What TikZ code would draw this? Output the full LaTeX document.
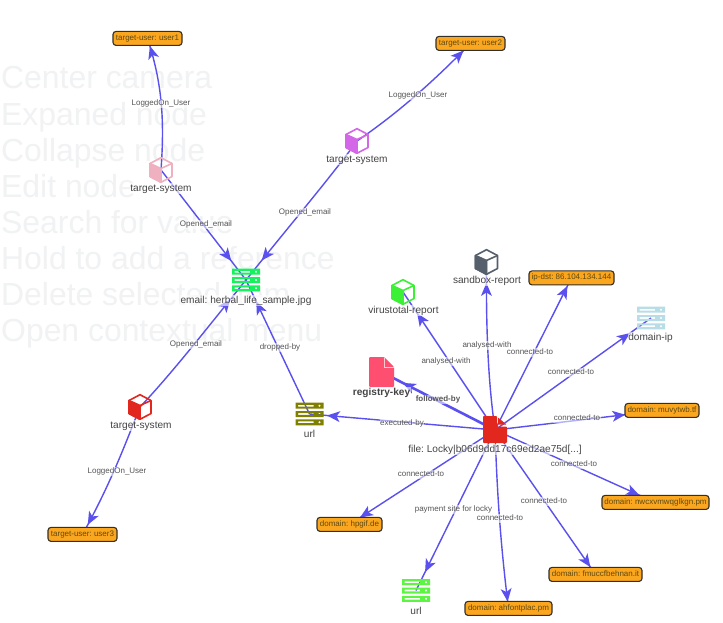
\documentclass[tikz,border=0pt]{standalone}
\usepackage{fontspec}
\setmainfont{Liberation Sans}
\usetikzlibrary{arrows.meta,decorations.markings}
\pgfdeclarelayer{hintlayer}\pgfdeclarelayer{edgelayer}
\pgfsetlayers{hintlayer,edgelayer,main}
\frenchspacing
\definecolor{edgeblue}{HTML}{5A50EE}
\definecolor{tagfill}{HTML}{FBA61F}
\definecolor{tagline}{HTML}{33302A}
\definecolor{tagtext}{HTML}{5E4A12}
\definecolor{labeltext}{HTML}{444444}
\definecolor{edgetext}{HTML}{555555}
\definecolor{hinttext}{HTML}{F1F2F3}
\definecolor{cpink}{HTML}{EFB0C0}
\definecolor{cmagenta}{HTML}{D466E8}
\definecolor{cred}{HTML}{E2281E}
\definecolor{cslate}{HTML}{56606C}
\definecolor{cvt}{HTML}{3CF036}
\definecolor{cemail}{HTML}{14F25C}
\definecolor{colive}{HTML}{808000}
\definecolor{cdomip}{HTML}{B9DDE6}
\definecolor{curlg}{HTML}{5CF542}
\definecolor{creg}{HTML}{FF4F70}
\tikzset{
  x=1pt,y=-1pt,
  edge/.style={draw=edgeblue,line width=1.4pt,postaction={decorate,decoration={markings,mark=at position -#1pt with {\arrow{Stealth[length=13pt,width=11pt,inset=3.5pt,line width=0pt,fill=edgeblue]}}}}},
  thickedge/.style={edge=#1,line width=2.6pt},
  tag/.style={draw=tagline,fill=tagfill,line width=1.1pt,rounded corners=3pt,minimum height=14pt,inner sep=0pt,text=tagtext,text height=6pt,text depth=2pt,yshift=-0.4pt,font=\fontsize{8}{9}\selectfont},
  elabel/.style={text=edgetext,font=\fontsize{8}{9}\selectfont,inner sep=0.5pt,text height=6pt,text depth=1.8pt,yshift=-0.8pt,fill=white,fill opacity=.55,text opacity=1},
  nlabel/.style={text=labeltext,font=\fontsize{10.1}{11}\selectfont,inner sep=0.5pt,text height=7.5pt,text depth=2pt,yshift=-1.6pt,fill=white,fill opacity=.6,text opacity=1},
  hint/.style={text=hinttext,font=\fontsize{31.9}{33}\selectfont,anchor=base west,inner sep=0pt},
  iconnode/.style={minimum size=26pt,inner sep=0pt},
}
\newcommand{\cubeicon}[3]{%
  \node[iconnode] (#1) at (#2) {};
  \begin{scope}[shift={(#2)},line join=round,line width=1.6pt]
    \draw[#3] (0,-12.3)--(11,-6.5)--(11,6.5)--(0,12.3)--(-11,6.5)--(-11,-6.5)--cycle;
    \filldraw[fill=#3,draw=#3] (-11,-6.5)--(0,-1.5)--(0,12.3)--(-11,6.5)--cycle;
    \draw[#3] (0,-1.5)--(11,-6.5);
  \end{scope}}
\newcommand{\serverrow}[2]{%
  \fill[#2,even odd rule] (-14,#1-3)rectangle(14,#1+3)
    (-11.5,#1-.9)rectangle(4,#1+.9)
    (10,#1) circle (1.4);}
\newcommand{\servericon}[3]{%
  \node[iconnode,minimum width=28pt,minimum height=24pt] (#1) at (#2) {};
  \begin{scope}[shift={(#2)}]
    \serverrow{-8.3}{#3}\serverrow{0}{#3}\serverrow{8.3}{#3}
  \end{scope}}
\begin{document}
\begin{tikzpicture}
\useasboundingbox (0,0) rectangle (723,623);
\begin{pgfonlayer}{hintlayer}
\fill[white] (0,0) rectangle (723,623);
\node[hint] (h1) at (1,89) {Center camera};
\node[hint] (h2) at (1,125.5) {Expaned node};
\node[hint] (h3) at (1,161.5) {Collapse node};
\node[hint] (h4) at (1,197) {Edit node};
\node[hint] (h5) at (1,233) {Search for value};
\node[hint] (h6) at (1,269) {Hold to add a reference};
\node[hint] (h7) at (1,305) {Delete selected item};
\node[hint] (h8) at (1,341) {Open contextual menu};
\end{pgfonlayer}
% icons lie above the connectors; their white parts are holes
\cubeicon{pink}{161,170}{cpink}
\cubeicon{magenta}{357,141}{cmagenta}
\cubeicon{redcube}{140,407}{cred}
\cubeicon{vt}{403,292}{cvt}
\cubeicon{sandbox}{486.5,262}{cslate}
\servericon{email}{246,280}{cemail}
\servericon{urlo}{309.5,414}{colive}
\servericon{domip}{651,318}{cdomip}
\servericon{urlg}{416,590.5}{curlg}
\node[iconnode,minimum width=25pt,minimum height=30pt] (reg) at (381.5,372) {};
\fill[creg,rounded corners=1pt] (369,357)--(384,357)--(394,367)--(394,387)--(369,387)--cycle;
\draw[white!70!creg,line width=.8pt] (384,358)--(384,367)--(393.5,367);
\node[iconnode,minimum width=24pt,minimum height=28pt] (file) at (495,430) {};
\fill[cred,rounded corners=.8pt] (483,416)--(497,416)--(497,426.5)--(507,426.5)--(507,443)--(483,443)--cycle;
\fill[cred,rounded corners=.5pt] (498,417.5)--(506.5,424.5)--(498,424.5)--cycle;
\node[tag,minimum width=69pt] (user1) at (147.5,38) {target-user: user1};
\node[tag,minimum width=69pt] (user2) at (470.5,43) {target-user: user2};
\node[tag,minimum width=69pt] (user3) at (82.5,534) {target-user: user3};
\node[tag,minimum width=85pt] (ipdst) at (571.5,277.5) {ip-dst: 86.104.134.144};
\node[tag,minimum width=74pt] (muvy) at (662,410) {domain: muvytwb.tf};
\node[tag,minimum width=107pt] (nwcx) at (655.5,502) {domain: nwcxvmwqglkgn.pm};
\node[tag,minimum width=93pt] (fmucc) at (595.5,574) {domain: fmuccfbehnan.it};
\node[tag,minimum width=87pt] (ahfont) at (508.5,608) {domain: ahfontplac.pm};
\node[tag,minimum width=65pt] (hpgif) at (349.5,524) {domain: hpgif.de};
\begin{pgfonlayer}{edgelayer}
\draw[edge=8] (pink.center) .. controls (165,115) and (161,80) .. (user1.center);
\draw[edge=24] (pink.center) -- (email.center);
\draw[edge=25] (magenta.center) .. controls (330,178) and (290,225) .. (email.center);
\draw[edge=10] (magenta.center) .. controls (395,115) and (430,85) .. (user2.center);
\draw[edge=25] (redcube.center) .. controls (175,370) and (215,318) .. (email.center);
\draw[edge=11] (redcube.center) .. controls (125,445) and (110,485) .. (user3.center);
\draw[edge=24] (urlo.center) -- (email.center);
\draw[edge=21] (file.center) .. controls (488,380) and (486,330) .. (sandbox.center);
\draw[edge=25.5] (file.center) -- (vt.center);
\draw[edge=9] (file.center) -- (ipdst.center);
\draw[edge=26] (file.center) -- (domip.center);
\draw[edge=37] (file.center) -- (muvy.center);
\draw[thickedge=24] (file.center) -- (reg.center);
\draw[edge=17.6] (file.center) -- (urlo.center);
\draw[edge=12.6] (file.center) -- (hpgif.center);
\draw[edge=20.6] (file.center) -- (urlg.center);
\draw[edge=7] (file.center) .. controls (497,490) and (500,540) .. (ahfont.center);
\draw[edge=9] (file.center) -- (fmucc.center);
\draw[edge=18] (file.center) -- (nwcx.center);
\end{pgfonlayer}
% node labels
\node[nlabel] (lpink) at (161,187) {target-system};
\node[nlabel] (lmag) at (357,158) {target-system};
\node[nlabel] (lred) at (141,424) {target-system};
\node[nlabel] (lemail) at (246,299) {email: herbal\_life\_sample.jpg};
\node[nlabel] (lurlo) at (309.5,433) {url};
\node[nlabel] (lurlg) at (416,610) {url};
\node[nlabel] (lsand) at (487,279) {sandbox-report};
\node[nlabel] (lvt) at (403.5,309) {virustotal-report};
\node[nlabel] (ldom) at (650.5,336) {domain-ip};
\node[nlabel,font=\fontsize{10.1}{11}\selectfont\bfseries] (lreg) at (381.5,391) {registry-key};
\node[nlabel] (lfile) at (495,448) {file: Locky|b06d9dd17c69ed2ae75d[...]};
% connector labels
\node[elabel] (e1) at (161,103) {LoggedOn\_User};
\node[elabel] (e2) at (206,224) {Opened\_email};
\node[elabel] (e3) at (305,212) {Opened\_email};
\node[elabel] (e4) at (418,94.5) {LoggedOn\_User};
\node[elabel] (e5) at (196,343.5) {Opened\_email};
\node[elabel] (e6) at (280,347) {dropped-by};
\node[elabel] (e7) at (117,470.5) {LoggedOn\_User};
\node[elabel] (e8) at (446,360.5) {analysed-with};
\node[elabel] (e9) at (487,344.5) {analysed-with};
\node[elabel] (e10) at (530,351.5) {connected-to};
\node[elabel] (e11) at (571,371.5) {connected-to};
\node[elabel] (e12) at (577,417.5) {connected-to};
\node[elabel,font=\fontsize{8}{9}\selectfont\bfseries] (e13) at (438,398.5) {followed-by};
\node[elabel] (e14) at (402,422.5) {executed-by};
\node[elabel] (e15) at (421,473.5) {connected-to};
\node[elabel] (e16) at (453.5,508.5) {payment site for locky};
\node[elabel] (e17) at (500,517.5) {connected-to};
\node[elabel] (e18) at (544,500.5) {connected-to};
\node[elabel] (e19) at (574,463.5) {connected-to};
\end{tikzpicture}
\end{document}
